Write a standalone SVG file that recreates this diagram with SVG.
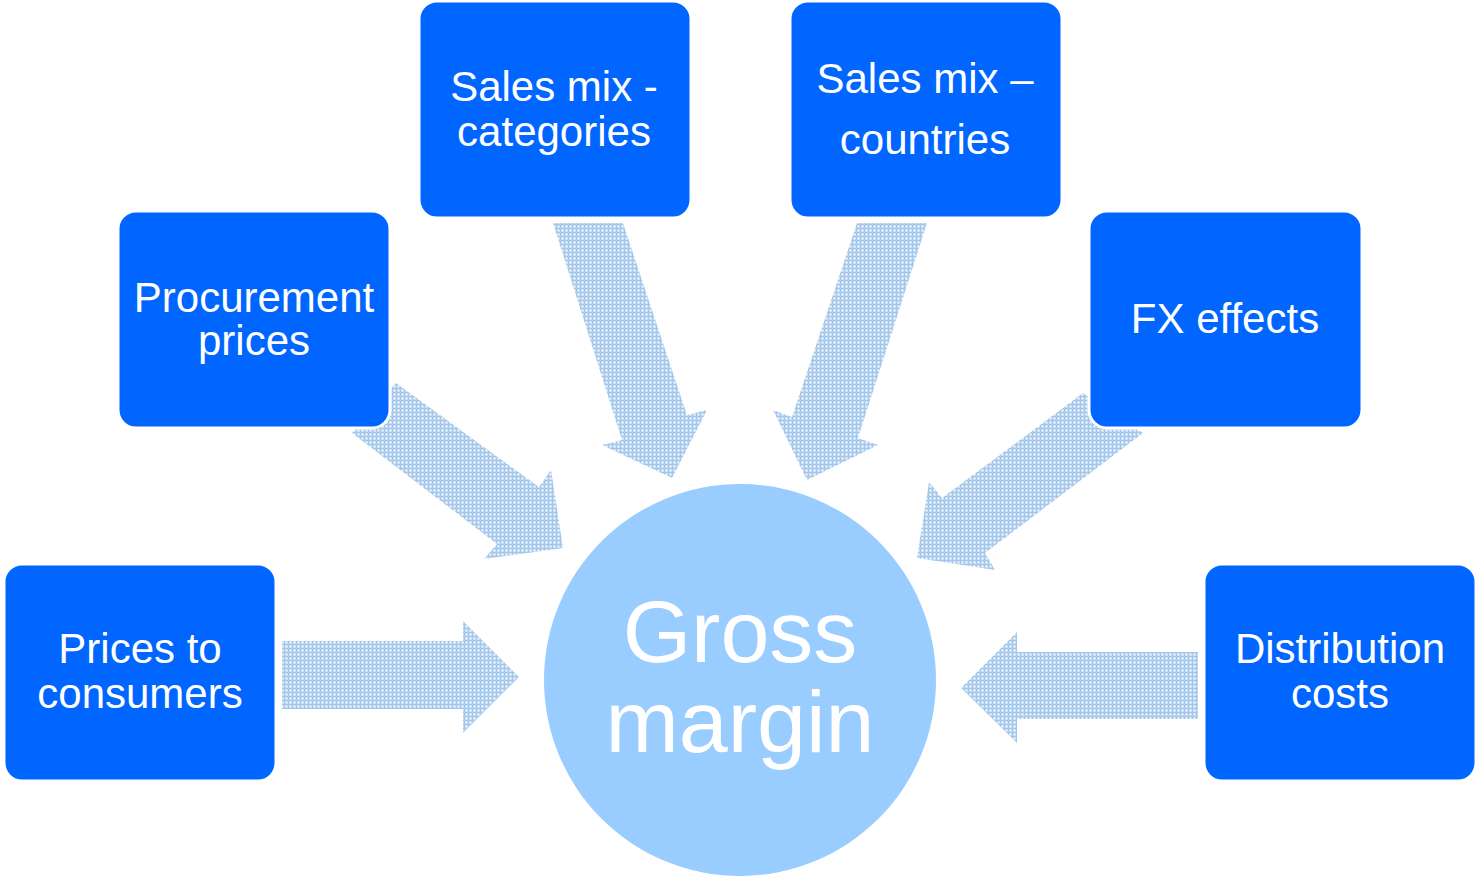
<svg xmlns="http://www.w3.org/2000/svg" width="1475" height="877" viewBox="0 0 1475 877">
<defs>
<pattern id="chk" width="4" height="4" patternUnits="userSpaceOnUse">
<rect width="4" height="4" fill="#c9def3"/>
<rect width="4" height="1" fill="#a3c7ea"/>
<rect width="1" height="4" fill="#a3c7ea"/>
<rect x="2" y="2" width="1" height="1" fill="#ffffff"/>
</pattern>
</defs>
<style>
.box{fill:#0066FF;stroke:#ffffff;stroke-width:3}
.arr{fill:url(#chk)}
.t{font-family:"Liberation Sans",Arial,sans-serif;fill:#ffffff;text-anchor:middle;font-size:42px}
.big{font-size:88px}
</style>
<rect width="1475" height="877" fill="#ffffff"/>
<g id="connectors">
<polygon class="arr" points="282,641 463,641 463,621 519,677 463,733 463,709 282,709"/>
<polygon class="arr" points="1198,652 1017,652 1017,632 961,688 1017,743 1017,719 1198,719"/>
<polygon class="arr" points="396,383 539,487 551,470 563,548 484,559 497,544 352,433"/>
<polygon class="arr" points="553,223 623,223 687,415 707,410 672,478 602,445 622,440"/>
<polygon class="arr" points="857,223 927,223 858,438 878,445 807,480 773,410 792,417"/>
<polygon class="arr" points="1083,393 942,498 929,482 917,558 995,570 985,553 1143,433"/>
</g>
<g id="node-prices-consumers">
<rect class="box" x="4" y="564" width="272" height="217" rx="18"/>
<text class="t" x="140" y="663">Prices to</text>
<text class="t" x="140" y="708">consumers</text>
</g>
<g id="node-procurement">
<rect class="box" x="118" y="211" width="272" height="217" rx="18"/>
<text class="t" x="254" y="312">Procurement</text>
<text class="t" x="254" y="355">prices</text>
</g>
<g id="node-sales-categories">
<rect class="box" x="419" y="1" width="272" height="217" rx="18"/>
<text class="t" x="554" y="101">Sales mix -</text>
<text class="t" x="554" y="146">categories</text>
</g>
<g id="node-sales-countries">
<rect class="box" x="790" y="1" width="272" height="217" rx="18"/>
<text class="t" x="925" y="93">Sales mix –</text>
<text class="t" x="925" y="154">countries</text>
</g>
<g id="node-fx">
<rect class="box" x="1089" y="211" width="273" height="217" rx="18"/>
<text class="t" x="1225" y="333">FX effects</text>
</g>
<g id="node-distribution">
<rect class="box" x="1204" y="564" width="272" height="217" rx="18"/>
<text class="t" x="1340" y="663">Distribution</text>
<text class="t" x="1340" y="708">costs</text>
</g>
<g id="node-gross-margin">
<circle cx="740" cy="680" r="196" fill="#99CCFF"/>
<text class="t big" x="740" y="662">Gross</text>
<text class="t big" x="740" y="752">margin</text>
</g>
</svg>
